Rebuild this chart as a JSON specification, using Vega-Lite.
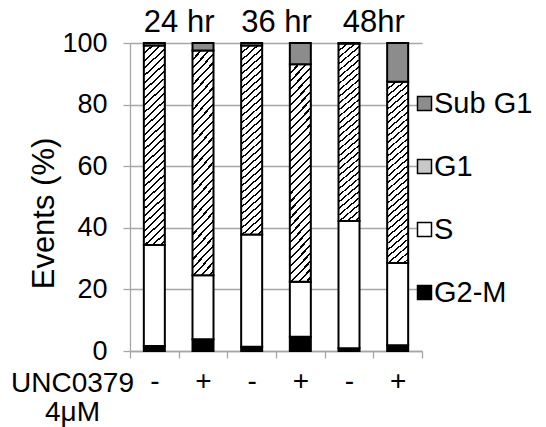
{
  "$schema": "https://vega.github.io/schema/vega-lite/v6.json",
  "autosize": {"type": "none"},
  "width": 292,
  "height": 308,
  "padding": {"left": 130, "top": 43, "right": 124, "bottom": 76},
  "background": "white",
  "config": {
    "view": {"stroke": null},
    "font": "Liberation Sans",
    "axis": {"labelFont": "Liberation Sans", "titleFont": "Liberation Sans", "labelColor": "black", "titleColor": "black", "titleFontWeight": "normal"},
    "legend": {"labelFont": "Liberation Sans"}
  },
  "datasets": {
    "cells": [
      {"bar": "24-", "time": "24 hr", "phase": "G2-M", "pct": 1.6},
      {"bar": "24-", "time": "24 hr", "phase": "S", "pct": 32.8},
      {"bar": "24-", "time": "24 hr", "phase": "G1", "pct": 64.8},
      {"bar": "24-", "time": "24 hr", "phase": "Sub G1", "pct": 0.8},
      {"bar": "24+", "time": "24 hr", "phase": "G2-M", "pct": 3.8},
      {"bar": "24+", "time": "24 hr", "phase": "S", "pct": 20.8},
      {"bar": "24+", "time": "24 hr", "phase": "G1", "pct": 73.0},
      {"bar": "24+", "time": "24 hr", "phase": "Sub G1", "pct": 2.4},
      {"bar": "36-", "time": "36 hr", "phase": "G2-M", "pct": 1.4},
      {"bar": "36-", "time": "36 hr", "phase": "S", "pct": 36.4},
      {"bar": "36-", "time": "36 hr", "phase": "G1", "pct": 61.4},
      {"bar": "36-", "time": "36 hr", "phase": "Sub G1", "pct": 0.8},
      {"bar": "36+", "time": "36 hr", "phase": "G2-M", "pct": 4.6},
      {"bar": "36+", "time": "36 hr", "phase": "S", "pct": 17.9},
      {"bar": "36+", "time": "36 hr", "phase": "G1", "pct": 70.6},
      {"bar": "36+", "time": "36 hr", "phase": "Sub G1", "pct": 6.9},
      {"bar": "48-", "time": "48hr", "phase": "G2-M", "pct": 0.9},
      {"bar": "48-", "time": "48hr", "phase": "S", "pct": 41.3},
      {"bar": "48-", "time": "48hr", "phase": "G1", "pct": 57.6},
      {"bar": "48-", "time": "48hr", "phase": "Sub G1", "pct": 0.2},
      {"bar": "48+", "time": "48hr", "phase": "G2-M", "pct": 1.9},
      {"bar": "48+", "time": "48hr", "phase": "S", "pct": 26.7},
      {"bar": "48+", "time": "48hr", "phase": "G1", "pct": 58.8},
      {"bar": "48+", "time": "48hr", "phase": "Sub G1", "pct": 12.6}
    ],
    "phases": [
      {"phase": "G2-M", "rank": 1},
      {"phase": "S", "rank": 2},
      {"phase": "G1", "rank": 3},
      {"phase": "Sub G1", "rank": 4}
    ]
  },
  "data": {"name": "cells"},
  "layer": [
    {
      "transform": [
        {"lookup": "phase", "from": {"data": {"name": "phases"}, "key": "phase", "fields": ["rank"]}}
      ],
      "mark": {"type": "bar", "width": 21, "stroke": "black", "strokeWidth": 2},
      "encoding": {
        "x": {
          "field": "bar", "type": "nominal", "sort": null,
          "scale": {"paddingInner": 0, "paddingOuter": 0},
          "axis": {
            "orient": "bottom", "labelAngle": 0, "labelFontSize": 28, "labelPadding": 9,
            "labelExpr": "substring(datum.label, 2)",
            "tickBand": "extent", "tickSize": 7, "tickColor": "#a6a6a6", "tickWidth": 1.3,
            "domainColor": "#a6a6a6", "domainWidth": 1.3,
            "title": ["UNC0379", "4μM"], "titleFontSize": 28, "titleAlign": "center",
            "titleX": -58, "titleY": 18, "titleBaseline": "top", "titleLineHeight": 29
          }
        },
        "y": {
          "field": "pct", "type": "quantitative", "stack": "zero",
          "scale": {"domain": [0, 100]},
          "axis": {
            "values": [0, 20, 40, 60, 80, 100], "labelFontSize": 27, "labelPadding": 16,
            "tickSize": 7, "tickColor": "#a6a6a6", "tickWidth": 1.3,
            "grid": true, "gridColor": "#a6a6a6", "gridWidth": 1.3,
            "domainColor": "#a6a6a6", "domainWidth": 1.3,
            "title": "Events (%)", "titleFontSize": 31, "titleX": -86, "titleY": 170,
            "titleAngle": -90, "titleBaseline": "middle", "titleAlign": "center"
          }
        },
        "order": {"field": "rank", "type": "quantitative"},
        "fill": {
          "condition": {
            "test": "datum.phase === 'G1'",
            "value": {"gradient": "linear", "x1": 0, "y1": 0, "x2": 0.11, "y2": 1.1, "stops": [
                {"offset": 0, "color": "#000000"}, {"offset": 0.009, "color": "#000000"}, {"offset": 0.009, "color": "#ffffff"}, {"offset": 0.0333, "color": "#ffffff"},
                {"offset": 0.0333, "color": "#000000"}, {"offset": 0.0423, "color": "#000000"}, {"offset": 0.0423, "color": "#ffffff"}, {"offset": 0.0667, "color": "#ffffff"},
                {"offset": 0.0667, "color": "#000000"}, {"offset": 0.0757, "color": "#000000"}, {"offset": 0.0757, "color": "#ffffff"}, {"offset": 0.1, "color": "#ffffff"},
                {"offset": 0.1, "color": "#000000"}, {"offset": 0.109, "color": "#000000"}, {"offset": 0.109, "color": "#ffffff"}, {"offset": 0.1333, "color": "#ffffff"},
                {"offset": 0.1333, "color": "#000000"}, {"offset": 0.1423, "color": "#000000"}, {"offset": 0.1423, "color": "#ffffff"}, {"offset": 0.1667, "color": "#ffffff"},
                {"offset": 0.1667, "color": "#000000"}, {"offset": 0.1757, "color": "#000000"}, {"offset": 0.1757, "color": "#ffffff"}, {"offset": 0.2, "color": "#ffffff"},
                {"offset": 0.2, "color": "#000000"}, {"offset": 0.209, "color": "#000000"}, {"offset": 0.209, "color": "#ffffff"}, {"offset": 0.2333, "color": "#ffffff"},
                {"offset": 0.2333, "color": "#000000"}, {"offset": 0.2423, "color": "#000000"}, {"offset": 0.2423, "color": "#ffffff"}, {"offset": 0.2667, "color": "#ffffff"},
                {"offset": 0.2667, "color": "#000000"}, {"offset": 0.2757, "color": "#000000"}, {"offset": 0.2757, "color": "#ffffff"}, {"offset": 0.3, "color": "#ffffff"},
                {"offset": 0.3, "color": "#000000"}, {"offset": 0.309, "color": "#000000"}, {"offset": 0.309, "color": "#ffffff"}, {"offset": 0.3333, "color": "#ffffff"},
                {"offset": 0.3333, "color": "#000000"}, {"offset": 0.3423, "color": "#000000"}, {"offset": 0.3423, "color": "#ffffff"}, {"offset": 0.3667, "color": "#ffffff"},
                {"offset": 0.3667, "color": "#000000"}, {"offset": 0.3757, "color": "#000000"}, {"offset": 0.3757, "color": "#ffffff"}, {"offset": 0.4, "color": "#ffffff"},
                {"offset": 0.4, "color": "#000000"}, {"offset": 0.409, "color": "#000000"}, {"offset": 0.409, "color": "#ffffff"}, {"offset": 0.4333, "color": "#ffffff"},
                {"offset": 0.4333, "color": "#000000"}, {"offset": 0.4423, "color": "#000000"}, {"offset": 0.4423, "color": "#ffffff"}, {"offset": 0.4667, "color": "#ffffff"},
                {"offset": 0.4667, "color": "#000000"}, {"offset": 0.4757, "color": "#000000"}, {"offset": 0.4757, "color": "#ffffff"}, {"offset": 0.5, "color": "#ffffff"},
                {"offset": 0.5, "color": "#000000"}, {"offset": 0.509, "color": "#000000"}, {"offset": 0.509, "color": "#ffffff"}, {"offset": 0.5333, "color": "#ffffff"},
                {"offset": 0.5333, "color": "#000000"}, {"offset": 0.5423, "color": "#000000"}, {"offset": 0.5423, "color": "#ffffff"}, {"offset": 0.5667, "color": "#ffffff"},
                {"offset": 0.5667, "color": "#000000"}, {"offset": 0.5757, "color": "#000000"}, {"offset": 0.5757, "color": "#ffffff"}, {"offset": 0.6, "color": "#ffffff"},
                {"offset": 0.6, "color": "#000000"}, {"offset": 0.609, "color": "#000000"}, {"offset": 0.609, "color": "#ffffff"}, {"offset": 0.6333, "color": "#ffffff"},
                {"offset": 0.6333, "color": "#000000"}, {"offset": 0.6423, "color": "#000000"}, {"offset": 0.6423, "color": "#ffffff"}, {"offset": 0.6667, "color": "#ffffff"},
                {"offset": 0.6667, "color": "#000000"}, {"offset": 0.6757, "color": "#000000"}, {"offset": 0.6757, "color": "#ffffff"}, {"offset": 0.7, "color": "#ffffff"},
                {"offset": 0.7, "color": "#000000"}, {"offset": 0.709, "color": "#000000"}, {"offset": 0.709, "color": "#ffffff"}, {"offset": 0.7333, "color": "#ffffff"},
                {"offset": 0.7333, "color": "#000000"}, {"offset": 0.7423, "color": "#000000"}, {"offset": 0.7423, "color": "#ffffff"}, {"offset": 0.7667, "color": "#ffffff"},
                {"offset": 0.7667, "color": "#000000"}, {"offset": 0.7757, "color": "#000000"}, {"offset": 0.7757, "color": "#ffffff"}, {"offset": 0.8, "color": "#ffffff"},
                {"offset": 0.8, "color": "#000000"}, {"offset": 0.809, "color": "#000000"}, {"offset": 0.809, "color": "#ffffff"}, {"offset": 0.8333, "color": "#ffffff"},
                {"offset": 0.8333, "color": "#000000"}, {"offset": 0.8423, "color": "#000000"}, {"offset": 0.8423, "color": "#ffffff"}, {"offset": 0.8667, "color": "#ffffff"},
                {"offset": 0.8667, "color": "#000000"}, {"offset": 0.8757, "color": "#000000"}, {"offset": 0.8757, "color": "#ffffff"}, {"offset": 0.9, "color": "#ffffff"},
                {"offset": 0.9, "color": "#000000"}, {"offset": 0.909, "color": "#000000"}, {"offset": 0.909, "color": "#ffffff"}, {"offset": 0.9333, "color": "#ffffff"},
                {"offset": 0.9333, "color": "#000000"}, {"offset": 0.9423, "color": "#000000"}, {"offset": 0.9423, "color": "#ffffff"}, {"offset": 0.9667, "color": "#ffffff"},
                {"offset": 0.9667, "color": "#000000"}, {"offset": 0.9757, "color": "#000000"}, {"offset": 0.9757, "color": "#ffffff"}, {"offset": 1, "color": "#ffffff"}
              ]}
          },
          "field": "phase", "type": "nominal",
          "scale": {
            "domain": ["Sub G1", "G1", "S", "G2-M"],
            "range": ["#8c8c8c", "#c8c8c8", "#ffffff", "#000000"]
          },
          "legend": {
            "orient": "none", "legendX": 280, "legendY": 46, "padding": 0,
            "title": null, "symbolType": "square", "symbolSize": 196,
            "symbolStrokeColor": "black", "symbolStrokeWidth": 1.5,
            "labelFontSize": 29, "labelColor": "black", "labelOffset": -5, "rowPadding": 33
          }
        }
      }
    },
    {
      "mark": {"type": "text", "text": ""},
      "encoding": {
        "x": {
          "field": "time", "type": "nominal",
          "scale": {"type": "point", "padding": 0.5},
          "axis": {
            "orient": "top", "domain": false, "ticks": false, "labelAngle": 0,
            "labelFontSize": 31, "labelPadding": 5, "title": null
          }
        }
      }
    }
  ],
  "resolve": {"scale": {"x": "independent"}, "axis": {"x": "independent"}}
}
